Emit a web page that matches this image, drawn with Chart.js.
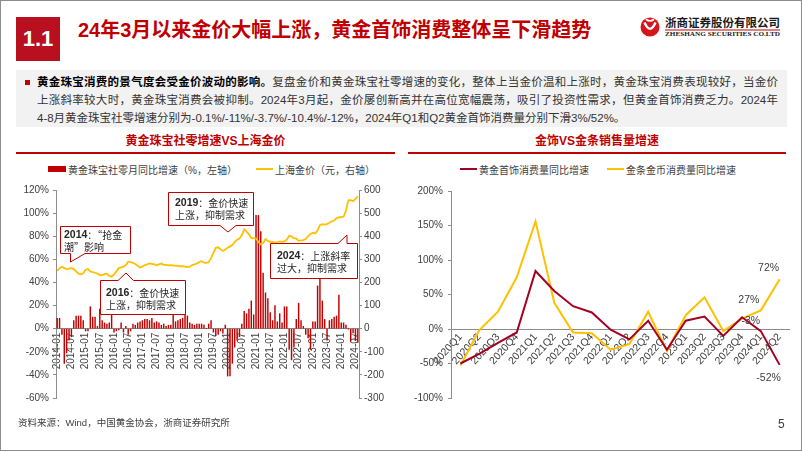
<!DOCTYPE html>
<html>
<head>
<meta charset="utf-8">
<script src="https://cdn.jsdelivr.net/npm/chart.js@4.4.1/dist/chart.umd.min.js"></script>
<style>
  body { margin: 0; width: 802px; height: 451px; overflow: hidden; background: #fff;
         font-family: "Liberation Sans", "Noto Sans CJK SC", sans-serif; }
  #frame { position: absolute; left: 0; top: 0; width: 800px; height: 449px; border: 1px solid #8c8c8c; }
  .abs { position: absolute; }
  #numbox { left: 16px; top: 17px; width: 44px; height: 44px; background: #b8101f; color: #fff;
            font-weight: bold; font-size: 22px; line-height: 44px; text-align: center; }
  #title { left: 78px; top: 17px; line-height: 26px; font-size: 20px; font-weight: bold; color: #c00000; white-space: nowrap; }
  #note { left: 16px; top: 70px; width: 771px; height: 57px; background: #f2f2f2; }
  #bullet { left: 25px; top: 80px; width: 5px; height: 5px; background: #c00000; }
  #para { left: 37px; top: 73px; width: 741px; font-size: 11.5px; line-height: 18px; color: #333; }
  #para b { color: #000; }
  #para .j { text-align: justify; text-align-last: justify; }
  .ctitle { top: 134px; line-height: 14px; font-size: 12px; font-weight: bold; color: #c00000; text-align: center; }
  .uline { top: 152px; height: 2px; background: #c00000; }
  .legend { top: 162px; height: 14px; display: flex; align-items: center; font-size: 10px; color: #404040; white-space: nowrap; }
  .lg-item { display: flex; align-items: center; }
  .lg-item i { display: inline-block; margin-right: 2px; }
  canvas { position: absolute; }
  #src { left: 18px; top: 416px; font-size: 9.5px; line-height: 13px; color: #404040; }
  #page { left: 778px; top: 417px; font-size: 12px; line-height: 14px; color: #404040; }
</style>
</head>
<body>
<div id="frame"></div>

<div id="numbox" class="abs">1.1</div>
<div id="title" class="abs">24年3月以来金价大幅上涨，黄金首饰消费整体呈下滑趋势</div>

<svg class="abs" style="left:636px;top:12px" width="152" height="30">
  <circle cx="14" cy="15" r="9.5" fill="#d6141c"/>
  <path d="M8.5,10.5 Q14,23 19.5,10.5" stroke="#fff" stroke-width="2.4" fill="none"/>
  <path d="M10,7.2 Q14,10.5 18,7.2" stroke="#fff" stroke-width="1.8" fill="none"/>
  <text x="29" y="14.5" font-size="11.5" font-weight="bold" font-family="Noto Sans CJK SC" fill="#1a1a1a"
        textLength="115" lengthAdjust="spacingAndGlyphs">浙商证券股份有限公司</text>
  <rect x="29" y="17.5" width="115" height="1" fill="#c00000"/>
  <text x="29" y="23.5" font-size="5.8" font-weight="bold" font-family="Liberation Serif" fill="#1a1a1a"
        textLength="115" lengthAdjust="spacingAndGlyphs">ZHESHANG SECURITIES CO.LTD</text>
</svg>

<div id="note" class="abs"></div>
<div id="bullet" class="abs"></div>
<div id="para" class="abs">
  <div class="j"><b>黄金珠宝消费的景气度会受金价波动的影响。</b>复盘金价和黄金珠宝社零增速的变化，整体上当金价温和上涨时，黄金珠宝消费表现较好，当金价</div>
  <div class="j">上涨斜率较大时，黄金珠宝消费会被抑制。2024年3月起，金价屡创新高并在高位宽幅震荡，吸引了投资性需求，但黄金首饰消费乏力。2024年</div>
  <div>4-8月黄金珠宝社零增速分别为-0.1%/-11%/-3.7%/-10.4%/-12%，2024年Q1和Q2黄金首饰消费量分别下滑3%/52%。</div>
</div>

<div class="abs ctitle" style="left:16px;width:379px">黄金珠宝社零增速VS上海金价</div>
<div class="abs uline" style="left:16px;width:379px"></div>
<div class="abs ctitle" style="left:408px;width:378px">金饰VS金条销售量增速</div>
<div class="abs uline" style="left:408px;width:378px"></div>

<div id="legendLeft" class="abs legend" style="left:48px"></div>
<div id="legendRight" class="abs legend" style="left:460px"></div>

<canvas id="leftChart" width="400" height="230" style="left:0;top:180px"></canvas>
<canvas id="rightChart" width="400" height="230" style="left:400px;top:180px"></canvas>

<!-- callouts on the left chart -->
<svg class="abs" style="left:0;top:0;pointer-events:none" width="802" height="451"
     font-family="Noto Sans CJK SC" font-size="10" fill="#262626">
  <g fill="#fff" stroke="#c00000" stroke-width="1">
    <path d="M60.5,226.5 H130.5 V253.5 H85 L70.5,262 V253.5 H60.5 Z"/>
    <path d="M100.5,280.5 H118 L126,273 L133.5,280.5 H185.5 V314.5 H100.5 Z"/>
    <path d="M168.5,192.5 H253.5 V225.5 H236 L228,232 L220,225.5 H168.5 Z"/>
    <path d="M270.5,243.5 H338 L347,235 V243.5 H357.5 V278.5 H270.5 Z"/>
  </g>
  <g dominant-baseline="central">
    <text x="64" y="234"><tspan font-family="Liberation Sans" font-weight="bold" font-size="10.5">2014</tspan>：“抢金</text>
    <text x="64" y="246">潮”影响</text>
    <text x="106" y="292"><tspan font-family="Liberation Sans" font-weight="bold" font-size="10.5">2016</tspan>：金价快速</text>
    <text x="106" y="304">上涨，抑制需求</text>
    <text x="175" y="202"><tspan font-family="Liberation Sans" font-weight="bold" font-size="10.5">2019</tspan>：金价快速</text>
    <text x="175" y="214">上涨，抑制需求</text>
    <text x="277" y="255"><tspan font-family="Liberation Sans" font-weight="bold" font-size="10.5">2024</tspan>：上涨斜率</text>
    <text x="277" y="267">过大，抑制需求</text>
  </g>
</svg>

<div id="src" class="abs">资料来源：Wind，中国黄金协会，浙商证券研究所</div>
<div id="page" class="abs">5</div>

<script>
// monthly categories 2014-01 .. 2024-08
const firstYear = 2014, lastYear = 2024, lastMonth = 8;
const monthLabels = [];
for (let y = firstYear; y <= lastYear; y++) {
  for (let m = 1; m <= 12; m++) {
    if (y === lastYear && m > lastMonth) break;
    monthLabels.push(y + '-' + String(m).padStart(2, '0'));
  }
}

// 黄金珠宝社零月同比增速 (%), one row per year
const jewelryRetailYoY = [
  9, 9, -5, -30, -21, -10, -7, 7, 11, 11, 11, 7,
  -2, -2, 19, 10, 10, 2, 17, 7, 5, 4, 5, 13,
  -3, -2, -1, 5, -3, 2, -5, -2, 4, 3, 5, 6,
  7, 8, 8, 7, 9, 5, 6, 5, 3, 4, 2, 3,
  3, 20, 6, 7, 8, 9, 14, 11, 5, 4, 3, 4,
  4, 4, 3, 0, 4, 7, -3, -6, -5, -2, -4, 3,
  -41, -41, -30, -16, -10, -7, 4, 15, 13, 17, 24, 12,
  98, 98, 84, 48, 31, 26, 14, 7, 20, 6, 13, 5,
  19, 19, -18, -27, -16, 8, 22, 7, 2, -5, -8, -18,
  6, 6, 37, 45, 24, 8, -10, 7, 8, 10, 11, 29,
  5, 5, 3, -0.1, -11, -3.7, -10.4, -12
];

// 上海金价 (元/克)
const shGoldPrice = [
  250, 262, 268, 262, 258, 260, 262, 258, 248, 238, 235, 240,
  255, 258, 248, 245, 242, 238, 232, 232, 236, 238, 228, 225,
  235, 248, 262, 265, 268, 275, 290, 288, 285, 280, 272, 265,
  268, 275, 278, 282, 280, 278, 274, 278, 282, 276, 276, 274,
  275, 274, 272, 273, 270, 270, 268, 266, 268, 275, 278, 282,
  288, 292, 286, 285, 288, 305, 328, 350, 352, 343, 336, 342,
  350, 356, 362, 375, 385, 390, 405, 430, 420, 408, 392, 392,
  390, 375, 365, 370, 388, 380, 376, 375, 372, 375, 378, 376,
  378, 385, 402, 400, 392, 390, 380, 382, 383, 388, 400, 410,
  415, 412, 425, 448, 452, 450, 452, 458, 465, 468, 478, 482,
  482, 485, 510, 555, 556, 552, 562, 572
];

const quarters = ['2020Q1', '2020Q2', '2020Q3', '2020Q4', '2021Q1', '2021Q2', '2021Q3', '2021Q4',
  '2022Q1', '2022Q2', '2022Q3', '2022Q4', '2023Q1', '2023Q2', '2023Q3', '2023Q4', '2024Q1', '2024Q2'];
// 黄金首饰消费量同比增速 (%)
const jewelryVolumeYoY = [-50, -36, -20, -5, 84, 55, 33, 24, -1, -15, 12, -30, 12, 18, -10, 17, -3, -52];
// 金条金币消费量同比增速 (%)
const barCoinVolumeYoY = [-53, -2, 25, 75, 156, 38, -5, -6, -30, -22, 25, -32, 20, 46, -3, 15, 27, 72];

Chart.defaults.font.family = '"Liberation Sans", "Noto Sans CJK SC", sans-serif';
Chart.defaults.font.size = 10;
Chart.defaults.color = '#404040';

const axisGray = '#8c8c8c';

function htmlLegend(chart, boxId, gap) {
  const box = document.getElementById(boxId);
  chart.data.datasets.forEach((ds, i) => {
    const item = document.createElement('span');
    item.className = 'lg-item';
    if (i > 0) item.style.marginLeft = gap + 'px';
    const mark = document.createElement('i');
    if (ds.type === 'bar') {
      mark.style.cssText = 'width:18px;height:6px;background:' + ds.backgroundColor;
    } else {
      mark.style.cssText = 'width:17px;height:2px;background:' + ds.borderColor;
    }
    item.appendChild(mark);
    item.appendChild(document.createTextNode(ds.label));
    box.appendChild(item);
  });
}

const leftChart = new Chart(document.getElementById('leftChart'), {
  data: {
    labels: monthLabels,
    datasets: [
      {
        type: 'bar',
        label: '黄金珠宝社零月同比增速（%，左轴）',
        data: jewelryRetailYoY,
        yAxisID: 'y',
        backgroundColor: '#c00000',
        barThickness: 0.8,
        order: 2
      },
      {
        type: 'line',
        label: '上海金价（元，右轴）',
        data: shGoldPrice,
        yAxisID: 'y1',
        borderColor: '#ffc000',
        borderWidth: 1.8,
        pointRadius: 0,
        order: 1
      }
    ]
  },
  options: {
    responsive: false,
    animation: false,
    layout: { padding: { top: 8, bottom: 12 } },
    plugins: { legend: { display: false }, tooltip: { enabled: false } },
    scales: {
      x: {
        position: { y: 0 },
        offset: true,
        grid: { display: false, drawTicks: false },
        border: { color: axisGray },
        ticks: {
          autoSkip: false, minRotation: 90, maxRotation: 90, padding: 4,
          callback: function (v, i) { return i % 6 === 0 ? this.getLabelForValue(v) : ''; }
        },
        afterFit: s => { s.height = 0; }
      },
      y: {
        position: 'left', min: -60, max: 120,
        ticks: { stepSize: 20, padding: 4, callback: v => v + '%' },
        grid: { drawOnChartArea: false, tickLength: 3, color: axisGray },
        border: { color: axisGray },
        afterFit: s => { s.width = 56; }
      },
      y1: {
        position: 'right', min: -300, max: 600,
        ticks: { stepSize: 100, padding: 2 },
        grid: { drawOnChartArea: false, tickLength: 3, color: axisGray },
        border: { color: axisGray },
        afterFit: s => { s.width = 41; }
      }
    }
  }
});
htmlLegend(leftChart, 'legendLeft', 19);

// value labels on the last quarters
const pointLabels = [
  { ds: 1, i: 17, dx: -11, dy: -11 },
  { ds: 1, i: 16, dx: -12, dy: -10 },
  { ds: 0, i: 16, dx: -10, dy: -10 },
  { ds: 0, i: 17, dx: -11, dy: 13 }
];
const pointLabelPlugin = {
  id: 'pointLabels',
  afterDatasetsDraw(chart) {
    const ctx = chart.ctx;
    ctx.save();
    ctx.font = '10.5px "Liberation Sans"';
    ctx.fillStyle = '#404040';
    ctx.textAlign = 'center';
    ctx.textBaseline = 'middle';
    pointLabels.forEach(p => {
      const pt = chart.getDatasetMeta(p.ds).data[p.i];
      const v = chart.data.datasets[p.ds].data[p.i];
      ctx.fillText(Math.round(v) + '%', pt.x + p.dx, pt.y + p.dy);
    });
    ctx.restore();
  }
};

const rightChart = new Chart(document.getElementById('rightChart'), {
  type: 'line',
  data: {
    labels: quarters,
    datasets: [
      { label: '黄金首饰消费量同比增速', data: jewelryVolumeYoY, borderColor: '#a50021', borderWidth: 2, pointRadius: 0 },
      { label: '金条金币消费量同比增速', data: barCoinVolumeYoY, borderColor: '#ffc000', borderWidth: 2, pointRadius: 0 }
    ]
  },
  options: {
    responsive: false,
    animation: false,
    layout: { padding: { top: 8, right: 11, bottom: 12 } },
    plugins: { legend: { display: false }, tooltip: { enabled: false } },
    scales: {
      x: {
        position: { y: 0 },
        offset: true,
        grid: { display: false, drawTicks: false },
        border: { color: axisGray },
        ticks: { autoSkip: false, minRotation: 48, maxRotation: 48, padding: 2, font: { size: 10.5 } },
        afterFit: s => { s.height = 0; }
      },
      y: {
        min: -100, max: 200,
        ticks: { stepSize: 50, padding: 5, callback: v => v + '%' },
        grid: { drawOnChartArea: false, tickLength: 3, color: axisGray },
        border: { color: axisGray },
        afterFit: s => { s.width = 51; }
      }
    }
  },
  plugins: [pointLabelPlugin]
});
htmlLegend(rightChart, 'legendRight', 18);
</script>
</body>
</html>
